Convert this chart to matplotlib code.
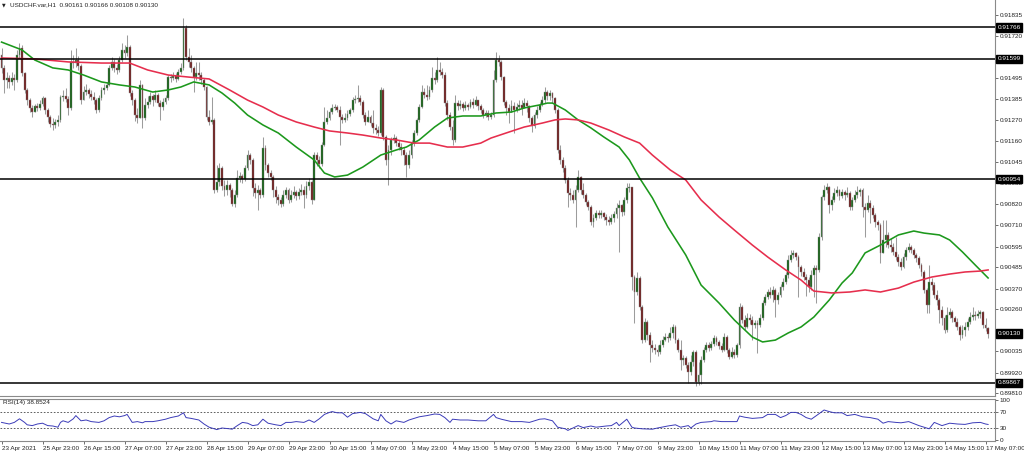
import numpy as np
import matplotlib
matplotlib.use("Agg")
import matplotlib.pyplot as plt
from matplotlib.transforms import blended_transform_factory

# ---------------- data ----------------
SYMBOL = "USDCHF.var,H1"
LAST_OHLC = [0.90161, 0.90166, 0.90108, 0.90130]

OPEN = [
    0.91619, 0.91550, 0.91485, 0.91496, 0.91475, 0.91496, 0.91485, 0.91619, 0.91656, 0.91523,
    0.91432, 0.91378, 0.91336, 0.91314, 0.91346, 0.91336, 0.91357, 0.91389, 0.91325, 0.91288,
    0.91250, 0.91245, 0.91261, 0.91272, 0.91394, 0.91400, 0.91384, 0.91336, 0.91582, 0.91576,
    0.91592, 0.91560, 0.91378, 0.91421, 0.91432, 0.91411, 0.91394, 0.91378, 0.91325, 0.91389,
    0.91432, 0.91443, 0.91459, 0.91550, 0.91582, 0.91550, 0.91539, 0.91592, 0.91646, 0.91630,
    0.91662, 0.91416, 0.91378, 0.91298, 0.91282, 0.91459, 0.91282, 0.91352, 0.91368, 0.91400,
    0.91378, 0.91405, 0.91362, 0.91341, 0.91368, 0.91389, 0.91501, 0.91496, 0.91507, 0.91491,
    0.91528, 0.91550, 0.91763, 0.91608, 0.91582, 0.91550, 0.91501, 0.91523, 0.91512, 0.91485,
    0.91448, 0.91288, 0.91261, 0.91272, 0.90897, 0.90940, 0.91015, 0.90919, 0.90897, 0.90924,
    0.90897, 0.90822, 0.90871, 0.90961, 0.90972, 0.90956, 0.91015, 0.91084, 0.91058, 0.90908,
    0.90881, 0.90897, 0.90871, 0.91122, 0.91031, 0.90988, 0.90967, 0.90897, 0.90860, 0.90844,
    0.90822, 0.90871, 0.90897, 0.90844, 0.90871, 0.90887, 0.90865, 0.90887, 0.90897, 0.90871,
    0.90919, 0.90940, 0.90844, 0.91084, 0.91058, 0.91036, 0.91138, 0.91261, 0.91282, 0.91314,
    0.91336, 0.91341, 0.91325, 0.91288, 0.91272, 0.91282, 0.91304, 0.91325, 0.91378, 0.91384,
    0.91389, 0.91368, 0.91298, 0.91261, 0.91288, 0.91255, 0.91229, 0.91218, 0.91202, 0.91432,
    0.91181, 0.91058, 0.91111, 0.91165, 0.91175, 0.91149, 0.91127, 0.91111, 0.91084, 0.91031,
    0.91084, 0.91149, 0.91202, 0.91272, 0.91341, 0.91421, 0.91405, 0.91394, 0.91432, 0.91496,
    0.91485, 0.91539, 0.91528, 0.91512, 0.91362, 0.91298, 0.91234, 0.91165, 0.91362, 0.91346,
    0.91357, 0.91336, 0.91352, 0.91341, 0.91368, 0.91352, 0.91378, 0.91346, 0.91325, 0.91298,
    0.91309, 0.91288, 0.91298, 0.91485, 0.91592, 0.91582, 0.91501, 0.91368, 0.91336, 0.91314,
    0.91346, 0.91325, 0.91341, 0.91352, 0.91336, 0.91362, 0.91346, 0.91282, 0.91239, 0.91298,
    0.91325, 0.91352, 0.91378, 0.91421, 0.91400, 0.91416, 0.91389, 0.91325, 0.91111, 0.91058,
    0.91015, 0.90951, 0.90881, 0.90871, 0.90844, 0.90897, 0.90967, 0.90897, 0.90871, 0.90833,
    0.90806, 0.90726, 0.90748, 0.90774, 0.90764, 0.90774, 0.90753, 0.90737, 0.90726, 0.90748,
    0.90769, 0.90801, 0.90817, 0.90780, 0.90844, 0.90908, 0.90913, 0.90432, 0.90352, 0.90427,
    0.90272, 0.90095, 0.90192, 0.90122, 0.90069, 0.90053, 0.90042, 0.90031, 0.90069, 0.90095,
    0.90111, 0.90106, 0.90133, 0.90165, 0.90095, 0.90042, 0.89988, 0.89999, 0.89962, 0.89924,
    0.89978, 0.90031, 0.89871, 0.89908, 0.89988, 0.90042, 0.90069, 0.90053, 0.90074, 0.90106,
    0.90085, 0.90063, 0.90042, 0.90111, 0.90042, 0.90005, 0.90031, 0.90015, 0.90069, 0.90272,
    0.90202, 0.90165, 0.90213, 0.90202, 0.90176, 0.90186, 0.90176, 0.90213, 0.90293, 0.90325,
    0.90352, 0.90336, 0.90363, 0.90309, 0.90336, 0.90379, 0.90405, 0.90443, 0.90523, 0.90550,
    0.90561, 0.90539, 0.90486, 0.90459, 0.90432, 0.90416, 0.90379, 0.90443, 0.90480, 0.90470,
    0.90646, 0.90860, 0.90897, 0.90913, 0.90817, 0.90844, 0.90881, 0.90897, 0.90865, 0.90887,
    0.90871, 0.90881, 0.90806, 0.90844, 0.90871, 0.90887, 0.90897, 0.90806, 0.90790, 0.90828,
    0.90801, 0.90764, 0.90726, 0.90710, 0.90561, 0.90630, 0.90657, 0.90603, 0.90593, 0.90566,
    0.90539, 0.90512, 0.90486, 0.90539, 0.90577, 0.90593, 0.90577, 0.90550, 0.90534, 0.90496,
    0.90459, 0.90363, 0.90283, 0.90405, 0.90389, 0.90336, 0.90309, 0.90256, 0.90213, 0.90149,
    0.90229, 0.90245, 0.90213, 0.90192, 0.90165, 0.90122, 0.90149, 0.90165, 0.90192, 0.90218,
    0.90229, 0.90224, 0.90234, 0.90245, 0.90176, 0.90161,
]

HIGH = [
    0.91656, 0.91566, 0.91528, 0.91512, 0.91528, 0.91517, 0.91646, 0.91683, 0.91672, 0.91528,
    0.91443, 0.91389, 0.91352, 0.91357, 0.91362, 0.91378, 0.91400, 0.91394, 0.91336, 0.91298,
    0.91282, 0.91277, 0.91298, 0.91405, 0.91432, 0.91443, 0.91400, 0.91646, 0.91619, 0.91656,
    0.91614, 0.91571, 0.91453, 0.91464, 0.91443, 0.91432, 0.91421, 0.91389, 0.91405, 0.91448,
    0.91464, 0.91475, 0.91566, 0.91608, 0.91598, 0.91571, 0.91614, 0.91683, 0.91672, 0.91726,
    0.91672, 0.91432, 0.91389, 0.91336, 0.91485, 0.91464, 0.91389, 0.91400, 0.91421, 0.91411,
    0.91432, 0.91416, 0.91378, 0.91389, 0.91405, 0.91512, 0.91517, 0.91528, 0.91523, 0.91544,
    0.91576, 0.91817, 0.91779, 0.91656, 0.91619, 0.91560, 0.91582, 0.91582, 0.91528, 0.91496,
    0.91453, 0.91325, 0.91394, 0.91282, 0.91031, 0.91042, 0.91026, 0.90951, 0.90951, 0.90935,
    0.90908, 0.90897, 0.91004, 0.90994, 0.90983, 0.91031, 0.91111, 0.91095, 0.91068, 0.90935,
    0.90924, 0.90908, 0.91181, 0.91138, 0.91042, 0.91004, 0.90977, 0.90919, 0.90876, 0.90860,
    0.90897, 0.90913, 0.90908, 0.90897, 0.90919, 0.90897, 0.90908, 0.90929, 0.90919, 0.90945,
    0.90961, 0.90951, 0.91100, 0.91100, 0.91079, 0.91154, 0.91341, 0.91325, 0.91336, 0.91357,
    0.91357, 0.91352, 0.91346, 0.91304, 0.91309, 0.91325, 0.91336, 0.91394, 0.91405, 0.91459,
    0.91405, 0.91378, 0.91314, 0.91325, 0.91298, 0.91325, 0.91250, 0.91239, 0.91448, 0.91443,
    0.91191, 0.91138, 0.91181, 0.91197, 0.91186, 0.91165, 0.91149, 0.91127, 0.91100, 0.91111,
    0.91165, 0.91218, 0.91282, 0.91357, 0.91459, 0.91443, 0.91459, 0.91453, 0.91555, 0.91528,
    0.91608, 0.91582, 0.91550, 0.91528, 0.91378, 0.91314, 0.91272, 0.91405, 0.91378, 0.91378,
    0.91368, 0.91373, 0.91362, 0.91384, 0.91389, 0.91400, 0.91378, 0.91357, 0.91336, 0.91325,
    0.91325, 0.91314, 0.91539, 0.91635, 0.91619, 0.91592, 0.91507, 0.91378, 0.91357, 0.91378,
    0.91368, 0.91362, 0.91378, 0.91378, 0.91389, 0.91378, 0.91352, 0.91293, 0.91314, 0.91346,
    0.91368, 0.91400, 0.91448, 0.91432, 0.91432, 0.91421, 0.91394, 0.91336, 0.91138, 0.91074,
    0.91031, 0.90967, 0.90908, 0.90897, 0.90924, 0.91004, 0.90972, 0.90935, 0.90881, 0.90844,
    0.90817, 0.90769, 0.90790, 0.90790, 0.90790, 0.90780, 0.90769, 0.90758, 0.90769, 0.90785,
    0.90828, 0.90844, 0.90822, 0.90860, 0.90935, 0.90935, 0.90913, 0.90443, 0.90459, 0.90438,
    0.90283, 0.90213, 0.90202, 0.90138, 0.90095, 0.90074, 0.90069, 0.90095, 0.90117, 0.90133,
    0.90127, 0.90165, 0.90181, 0.90176, 0.90106, 0.90095, 0.90015, 0.90010, 0.89978, 0.90015,
    0.90042, 0.90042, 0.89978, 0.90010, 0.90058, 0.90085, 0.90085, 0.90090, 0.90122, 0.90117,
    0.90095, 0.90079, 0.90133, 0.90122, 0.90053, 0.90058, 0.90047, 0.90079, 0.90293, 0.90283,
    0.90229, 0.90240, 0.90234, 0.90224, 0.90202, 0.90202, 0.90234, 0.90309, 0.90341, 0.90368,
    0.90379, 0.90384, 0.90373, 0.90352, 0.90395, 0.90427, 0.90459, 0.90550, 0.90577, 0.90577,
    0.90566, 0.90550, 0.90496, 0.90480, 0.90448, 0.90432, 0.90470, 0.90496, 0.90496, 0.90667,
    0.90871, 0.90924, 0.90935, 0.90919, 0.90865, 0.90908, 0.90919, 0.90903, 0.90903, 0.90897,
    0.90913, 0.90892, 0.90860, 0.90897, 0.90919, 0.90908, 0.90908, 0.90828, 0.90871, 0.90844,
    0.90817, 0.90774, 0.90737, 0.90721, 0.90737, 0.90737, 0.90673, 0.90641, 0.90614, 0.90646,
    0.90555, 0.90534, 0.90561, 0.90593, 0.90614, 0.90603, 0.90587, 0.90561, 0.90544, 0.90507,
    0.90470, 0.90373, 0.90496, 0.90427, 0.90405, 0.90363, 0.90320, 0.90277, 0.90229, 0.90272,
    0.90266, 0.90256, 0.90224, 0.90213, 0.90176, 0.90176, 0.90192, 0.90213, 0.90245, 0.90272,
    0.90250, 0.90256, 0.90256, 0.90250, 0.90213, 0.90166,
]

LOW = [
    0.91523, 0.91416, 0.91443, 0.91443, 0.91459, 0.91432, 0.91475, 0.91603, 0.91507, 0.91416,
    0.91352, 0.91314, 0.91288, 0.91314, 0.91320, 0.91325, 0.91346, 0.91304, 0.91261, 0.91234,
    0.91218, 0.91229, 0.91239, 0.91261, 0.91373, 0.91368, 0.91298, 0.91325, 0.91550, 0.91555,
    0.91539, 0.91357, 0.91378, 0.91405, 0.91389, 0.91378, 0.91357, 0.91309, 0.91314, 0.91378,
    0.91411, 0.91432, 0.91453, 0.91539, 0.91528, 0.91517, 0.91528, 0.91582, 0.91603, 0.91614,
    0.91400, 0.91352, 0.91266, 0.91255, 0.91282, 0.91229, 0.91272, 0.91336, 0.91357, 0.91346,
    0.91368, 0.91346, 0.91272, 0.91325, 0.91357, 0.91378, 0.91475, 0.91485, 0.91475, 0.91485,
    0.91517, 0.91539, 0.91592, 0.91555, 0.91528, 0.91421, 0.91485, 0.91485, 0.91464, 0.91432,
    0.91272, 0.91245, 0.91250, 0.90881, 0.90887, 0.90919, 0.90897, 0.90865, 0.90871, 0.90860,
    0.90812, 0.90806, 0.90860, 0.90940, 0.90935, 0.90945, 0.91004, 0.91036, 0.90865, 0.90855,
    0.90790, 0.90855, 0.90860, 0.91004, 0.90967, 0.90951, 0.90860, 0.90828, 0.90817, 0.90806,
    0.90812, 0.90855, 0.90828, 0.90833, 0.90855, 0.90844, 0.90849, 0.90871, 0.90801, 0.90855,
    0.90897, 0.90822, 0.90844, 0.91026, 0.91015, 0.91026, 0.91133, 0.91250, 0.91272, 0.91304,
    0.91325, 0.91314, 0.91138, 0.91255, 0.91261, 0.91272, 0.91293, 0.91314, 0.91362, 0.91368,
    0.91352, 0.91282, 0.91245, 0.91261, 0.91239, 0.91202, 0.91197, 0.91186, 0.91191, 0.91165,
    0.91031, 0.90924, 0.91084, 0.91149, 0.91133, 0.91111, 0.91084, 0.91031, 0.90967, 0.91015,
    0.91068, 0.91133, 0.91191, 0.91261, 0.91336, 0.91389, 0.91378, 0.91384, 0.91421, 0.91464,
    0.91475, 0.91512, 0.91496, 0.91346, 0.91272, 0.91218, 0.91138, 0.91154, 0.91325, 0.91330,
    0.91320, 0.91325, 0.91325, 0.91336, 0.91336, 0.91346, 0.91325, 0.91309, 0.91282, 0.91288,
    0.91272, 0.91277, 0.91288, 0.91475, 0.91560, 0.91485, 0.91352, 0.91298, 0.91255, 0.91325,
    0.91202, 0.91314, 0.91325, 0.91298, 0.91336, 0.91314, 0.91261, 0.91207, 0.91229, 0.91282,
    0.91314, 0.91346, 0.91362, 0.91378, 0.91378, 0.91362, 0.91309, 0.91095, 0.91036, 0.90994,
    0.90935, 0.90806, 0.90844, 0.90828, 0.90700, 0.90887, 0.90876, 0.90855, 0.90817, 0.90790,
    0.90710, 0.90700, 0.90737, 0.90748, 0.90748, 0.90737, 0.90710, 0.90710, 0.90716, 0.90726,
    0.90748, 0.90566, 0.90758, 0.90764, 0.90828, 0.90887, 0.90363, 0.90186, 0.90336, 0.90256,
    0.90079, 0.90085, 0.90095, 0.89978, 0.90031, 0.90021, 0.90010, 0.90021, 0.90058, 0.90090,
    0.90085, 0.90095, 0.90106, 0.90079, 0.90031, 0.89935, 0.89962, 0.89946, 0.89866, 0.89908,
    0.89956, 0.89849, 0.89855, 0.89860, 0.89978, 0.90031, 0.90037, 0.90042, 0.90063, 0.90069,
    0.90047, 0.90031, 0.90037, 0.90026, 0.89994, 0.89999, 0.89999, 0.90005, 0.90053, 0.90186,
    0.90149, 0.90160, 0.90181, 0.90095, 0.90160, 0.90026, 0.90165, 0.90202, 0.90283, 0.90315,
    0.90320, 0.90299, 0.90218, 0.90288, 0.90325, 0.90363, 0.90395, 0.90427, 0.90512, 0.90534,
    0.90523, 0.90325, 0.90438, 0.90416, 0.90331, 0.90352, 0.90363, 0.90325, 0.90293, 0.90459,
    0.90630, 0.90844, 0.90881, 0.90774, 0.90790, 0.90833, 0.90865, 0.90844, 0.90855, 0.90844,
    0.90860, 0.90790, 0.90790, 0.90833, 0.90855, 0.90865, 0.90753, 0.90646, 0.90780, 0.90721,
    0.90748, 0.90700, 0.90683, 0.90507, 0.90577, 0.90593, 0.90587, 0.90566, 0.90550, 0.90523,
    0.90491, 0.90470, 0.90480, 0.90523, 0.90566, 0.90561, 0.90534, 0.90512, 0.90480, 0.90438,
    0.90347, 0.90240, 0.90240, 0.90363, 0.90320, 0.90283, 0.90186, 0.90176, 0.90133, 0.90138,
    0.90213, 0.90192, 0.90170, 0.90149, 0.90095, 0.90106, 0.90117, 0.90149, 0.90181, 0.90202,
    0.90202, 0.90213, 0.90213, 0.90160, 0.90144, 0.90108,
]

CLOSE = [
    0.91550, 0.91485, 0.91496, 0.91475, 0.91496, 0.91485, 0.91619, 0.91656, 0.91523, 0.91432,
    0.91378, 0.91336, 0.91314, 0.91346, 0.91336, 0.91357, 0.91389, 0.91325, 0.91288, 0.91250,
    0.91245, 0.91261, 0.91272, 0.91394, 0.91400, 0.91384, 0.91336, 0.91582, 0.91576, 0.91592,
    0.91560, 0.91378, 0.91421, 0.91432, 0.91411, 0.91394, 0.91378, 0.91325, 0.91389, 0.91432,
    0.91443, 0.91459, 0.91550, 0.91582, 0.91550, 0.91539, 0.91592, 0.91646, 0.91630, 0.91662,
    0.91416, 0.91378, 0.91298, 0.91282, 0.91459, 0.91282, 0.91352, 0.91368, 0.91400, 0.91378,
    0.91405, 0.91362, 0.91341, 0.91368, 0.91389, 0.91501, 0.91496, 0.91507, 0.91491, 0.91528,
    0.91550, 0.91763, 0.91608, 0.91582, 0.91550, 0.91501, 0.91523, 0.91512, 0.91485, 0.91448,
    0.91288, 0.91261, 0.91272, 0.90897, 0.90940, 0.91015, 0.90919, 0.90897, 0.90924, 0.90897,
    0.90822, 0.90871, 0.90961, 0.90972, 0.90956, 0.91015, 0.91084, 0.91058, 0.90908, 0.90881,
    0.90897, 0.90871, 0.91122, 0.91031, 0.90988, 0.90967, 0.90897, 0.90860, 0.90844, 0.90822,
    0.90871, 0.90897, 0.90844, 0.90871, 0.90887, 0.90865, 0.90887, 0.90897, 0.90871, 0.90919,
    0.90940, 0.90844, 0.91084, 0.91058, 0.91036, 0.91138, 0.91261, 0.91282, 0.91314, 0.91336,
    0.91341, 0.91325, 0.91288, 0.91272, 0.91282, 0.91304, 0.91325, 0.91378, 0.91384, 0.91389,
    0.91368, 0.91298, 0.91261, 0.91288, 0.91255, 0.91229, 0.91218, 0.91202, 0.91432, 0.91181,
    0.91058, 0.91111, 0.91165, 0.91175, 0.91149, 0.91127, 0.91111, 0.91084, 0.91031, 0.91084,
    0.91149, 0.91202, 0.91272, 0.91341, 0.91421, 0.91405, 0.91394, 0.91432, 0.91496, 0.91485,
    0.91539, 0.91528, 0.91512, 0.91362, 0.91298, 0.91234, 0.91165, 0.91362, 0.91346, 0.91357,
    0.91336, 0.91352, 0.91341, 0.91368, 0.91352, 0.91378, 0.91346, 0.91325, 0.91298, 0.91309,
    0.91288, 0.91298, 0.91485, 0.91592, 0.91582, 0.91501, 0.91368, 0.91336, 0.91314, 0.91346,
    0.91325, 0.91341, 0.91352, 0.91336, 0.91362, 0.91346, 0.91282, 0.91239, 0.91298, 0.91325,
    0.91352, 0.91378, 0.91421, 0.91400, 0.91416, 0.91389, 0.91325, 0.91111, 0.91058, 0.91015,
    0.90951, 0.90881, 0.90871, 0.90844, 0.90897, 0.90967, 0.90897, 0.90871, 0.90833, 0.90806,
    0.90726, 0.90748, 0.90774, 0.90764, 0.90774, 0.90753, 0.90737, 0.90726, 0.90748, 0.90769,
    0.90801, 0.90817, 0.90780, 0.90844, 0.90908, 0.90913, 0.90432, 0.90352, 0.90427, 0.90272,
    0.90095, 0.90192, 0.90122, 0.90069, 0.90053, 0.90042, 0.90031, 0.90069, 0.90095, 0.90111,
    0.90106, 0.90133, 0.90165, 0.90095, 0.90042, 0.89988, 0.89999, 0.89962, 0.89924, 0.89978,
    0.90031, 0.89871, 0.89908, 0.89988, 0.90042, 0.90069, 0.90053, 0.90074, 0.90106, 0.90085,
    0.90063, 0.90042, 0.90111, 0.90042, 0.90005, 0.90031, 0.90015, 0.90069, 0.90272, 0.90202,
    0.90165, 0.90213, 0.90202, 0.90176, 0.90186, 0.90176, 0.90213, 0.90293, 0.90325, 0.90352,
    0.90336, 0.90363, 0.90309, 0.90336, 0.90379, 0.90405, 0.90443, 0.90523, 0.90550, 0.90561,
    0.90539, 0.90486, 0.90459, 0.90432, 0.90416, 0.90379, 0.90443, 0.90480, 0.90470, 0.90646,
    0.90860, 0.90897, 0.90913, 0.90817, 0.90844, 0.90881, 0.90897, 0.90865, 0.90887, 0.90871,
    0.90881, 0.90806, 0.90844, 0.90871, 0.90887, 0.90897, 0.90806, 0.90790, 0.90828, 0.90801,
    0.90764, 0.90726, 0.90710, 0.90561, 0.90630, 0.90657, 0.90603, 0.90593, 0.90566, 0.90539,
    0.90512, 0.90486, 0.90539, 0.90577, 0.90593, 0.90577, 0.90550, 0.90534, 0.90496, 0.90459,
    0.90363, 0.90283, 0.90405, 0.90389, 0.90336, 0.90309, 0.90256, 0.90213, 0.90149, 0.90229,
    0.90245, 0.90213, 0.90192, 0.90165, 0.90122, 0.90149, 0.90165, 0.90192, 0.90218, 0.90229,
    0.90224, 0.90234, 0.90245, 0.90176, 0.90160, 0.90130,
]

# moving averages (bar index, value)
MA_FAST_BARS = [0, 8, 13, 20, 26, 32, 39, 46, 52, 59, 65, 70, 75, 81, 86, 91, 96, 102, 108, 115,
                122, 126, 130, 135, 141, 148, 154, 158, 163, 169, 174, 180, 187, 193, 199, 204, 210, 213, 215, 220,
                225, 230, 235, 241, 245, 249, 254, 260, 267, 273, 280, 286, 293, 297, 302, 307, 312, 317, 323, 328,
                332, 337, 343, 350, 356, 360, 366, 370, 375, 380, 385]
MA_FAST = [0.91688, 0.91646, 0.91592, 0.91550, 0.91539, 0.91512, 0.91475, 0.91459, 0.91448, 0.91421,
           0.91432, 0.91448, 0.91475, 0.91459, 0.91416, 0.91362, 0.91298, 0.91245, 0.91202, 0.91127,
           0.91058, 0.90988, 0.90967, 0.90977, 0.91020, 0.91084, 0.91111, 0.91127, 0.91165, 0.91234,
           0.91282, 0.91293, 0.91293, 0.91309, 0.91314, 0.91336, 0.91352, 0.91362, 0.91362, 0.91325,
           0.91272, 0.91229, 0.91181, 0.91127, 0.91058, 0.90961, 0.90855, 0.90700, 0.90550, 0.90389,
           0.90293, 0.90202, 0.90111, 0.90085, 0.90095, 0.90133, 0.90165, 0.90218, 0.90309, 0.90400,
           0.90454, 0.90561, 0.90603, 0.90657, 0.90678, 0.90667, 0.90657, 0.90630, 0.90566, 0.90496,
           0.90427]

MA_SLOW_BARS = [0, 13, 26, 39, 50, 57, 65, 73, 81, 89, 96, 102, 108, 115, 122, 128, 135, 141, 148, 154,
                161, 167, 174, 180, 187, 191, 198, 204, 211, 216, 220, 225, 230, 237, 243, 249, 254, 261, 267, 273,
                280, 286, 293, 299, 306, 312, 317, 324, 331, 337, 343, 350, 356, 363, 370, 376, 382, 385]
MA_SLOW = [0.91603, 0.91598, 0.91582, 0.91576, 0.91576, 0.91539, 0.91512, 0.91501, 0.91491, 0.91432,
           0.91378, 0.91341, 0.91298, 0.91261, 0.91234, 0.91213, 0.91202, 0.91191, 0.91175, 0.91165,
           0.91148, 0.91148, 0.91127, 0.91127, 0.91148, 0.91175, 0.91207, 0.91234, 0.91255, 0.91272,
           0.91277, 0.91272, 0.91255, 0.91218, 0.91181, 0.91148, 0.91084, 0.91004, 0.90951, 0.90844,
           0.90753, 0.90683, 0.90603, 0.90539, 0.90470, 0.90416, 0.90357, 0.90347, 0.90352, 0.90363,
           0.90352, 0.90373, 0.90405, 0.90432, 0.90448, 0.90459, 0.90464, 0.90470]

RSI_BARS = [0, 3, 5, 7, 9, 10, 12, 14, 16, 18, 20, 22, 23, 24, 26, 28, 29, 31, 33, 35,
            38, 40, 42, 44, 46, 48, 49, 51, 53, 55, 56, 59, 61, 64, 66, 69, 71, 72, 74, 77,
            79, 81, 84, 86, 89, 90, 92, 94, 96, 98, 100, 102, 104, 107, 109, 111, 113, 115, 118, 120,
            122, 124, 126, 128, 129, 131, 133, 135, 137, 140, 142, 145, 147, 148, 150, 152, 154, 157, 159, 163,
            166, 169, 171, 173, 175, 176, 179, 182, 186, 189, 192, 193, 195, 199, 203, 206, 208, 210, 212, 215,
            217, 220, 221, 223, 225, 227, 230, 232, 236, 238, 240, 241, 244, 246, 247, 250, 254, 256, 260, 263,
            265, 268, 269, 271, 273, 277, 278, 281, 284, 287, 288, 290, 293, 297, 299, 302, 304, 306, 308, 310,
            312, 314, 316, 318, 321, 323, 325, 328, 330, 333, 336, 339, 342, 344, 346, 349, 351, 354, 358, 360,
            362, 364, 367, 370, 373, 376, 379, 382, 384, 385]
RSI_VALS = [44, 40, 44, 53, 44, 38, 36, 40, 42, 36, 35, 32, 44, 48, 44, 53, 61, 48, 50, 46,
            44, 48, 56, 60, 58, 61, 64, 44, 46, 43, 46, 46, 48, 52, 56, 60, 68, 56, 54, 50,
            40, 32, 26, 30, 28, 27, 36, 44, 42, 36, 38, 52, 42, 38, 36, 44, 44, 46, 44, 50,
            44, 53, 64, 69, 71, 68, 68, 57, 66, 69, 66, 53, 48, 64, 48, 40, 48, 44, 50, 58,
            61, 65, 64, 56, 44, 52, 50, 50, 48, 48, 64, 56, 52, 46, 46, 44, 48, 52, 53, 48,
            32, 28, 24, 30, 36, 31, 35, 32, 35, 36, 44, 36, 52, 32, 30, 28, 27, 30, 35, 38,
            32, 36, 30, 40, 44, 46, 48, 46, 46, 46, 60, 57, 54, 56, 64, 64, 56, 61, 69, 69,
            64, 56, 52, 61, 75, 71, 68, 68, 61, 64, 58, 56, 52, 42, 46, 44, 43, 46, 36, 32,
            28, 44, 36, 42, 40, 39, 43, 44, 40, 38.85]
RSI_LAST = 38.8524

LEVELS = [0.91766, 0.91599, 0.90954, 0.89867]
# scale labels that stay visible beside the black price boxes
PRICE_TICKS = [0.91835, 0.91720, 0.91495, 0.91385, 0.91270, 0.91160, 0.91045, 0.90935, 0.90820,
               0.90710, 0.90595, 0.90485, 0.90370, 0.90260, 0.90035, 0.89920, 0.89810]
RSI_TICKS = [100, 70, 30, 0]
RSI_LEVELS = [70, 30]
TIME_LABEL_BARS = [0, 16, 32, 48, 64, 80, 96, 112, 128, 144, 160, 176, 192, 208, 224, 240, 256, 272,
                   288, 304, 320, 336, 352, 368, 384]
TIME_LABELS = ["23 Apr 2021", "25 Apr 23:00", "26 Apr 15:00", "27 Apr 07:00", "27 Apr 23:00",
               "28 Apr 15:00", "29 Apr 07:00", "29 Apr 23:00", "30 Apr 15:00", "3 May 07:00",
               "3 May 23:00", "4 May 15:00", "5 May 07:00", "5 May 23:00", "6 May 15:00",
               "7 May 07:00", "9 May 23:00", "10 May 15:00", "11 May 07:00", "11 May 23:00",
               "12 May 15:00", "13 May 07:00", "13 May 23:00", "14 May 15:00", "17 May 07:00"]

# ---------------- figure ----------------
plt.rcParams['font.family'] = ['Liberation Sans', 'DejaVu Sans']
W, H = 1024, 454
fig = plt.figure(figsize=(W / 100, H / 100), dpi=100)
fig.patch.set_facecolor('white')

def fx(px):
    return px / W

def fy(py):
    return 1 - py / H

AX_RIGHT = 995
ax = fig.add_axes([0, fy(396), fx(AX_RIGHT), 396 / H])
rax = fig.add_axes([0, fy(441), fx(AX_RIGHT), 42 / H])

FS = 4.6
GRID_GREY = '#8a8a8a'
WICK = '#9c9c9c'
BULL = '#0e5e0e'
BEAR = '#6c1515'

o = np.array(OPEN)
h = np.array(HIGH)
l = np.array(LOW)
c = np.array(CLOSE)
bars = np.arange(len(c))
top = np.maximum(h, np.maximum(o, c))
bot = np.minimum(l, np.minimum(o, c))

ax.vlines(bars, bot, top, colors=WICK, lw=0.75, zorder=2)
body_lo = np.minimum(o, c)
body_h = np.maximum(np.abs(c - o), 0.00003)
up = c >= o
ax.bar(bars[up], body_h[up], bottom=body_lo[up], width=0.72, color=BULL,
       edgecolor='#8e8e8e', linewidth=0.3, zorder=3)
ax.bar(bars[~up], body_h[~up], bottom=body_lo[~up], width=0.72, color=BEAR,
       edgecolor='#8e8e8e', linewidth=0.3, zorder=3)

ax.plot(MA_FAST_BARS, MA_FAST, color='#1c981c', lw=1.15, zorder=4)
ax.plot(MA_SLOW_BARS, MA_SLOW, color='#e62e4d', lw=1.15, zorder=4)

for v in LEVELS:
    ax.axhline(v, color='black', lw=1.1, zorder=5)

px_per_price = 18706.0
ymax = 0.91913
ax.set_ylim(ymax - 396 / px_per_price, ymax)
xl = (-0.6, -0.6 + AX_RIGHT / 2.5625)
ax.set_xlim(*xl)

ax.yaxis.tick_right()
ax.set_yticks(PRICE_TICKS)
ax.set_yticklabels([f"{v:.5f}" for v in PRICE_TICKS])
ax.tick_params(axis='y', length=2, width=0.6, pad=1.5, labelsize=FS,
               colors='#555555', labelcolor='#222222')
ax.set_xticks([])
for s in ['left', 'top']:
    ax.spines[s].set_visible(False)
for s in ['right', 'bottom']:
    ax.spines[s].set_color(GRID_GREY)
    ax.spines[s].set_linewidth(0.8)

trans = blended_transform_factory(ax.transAxes, ax.transData)
for v in LEVELS + [LAST_OHLC[3]]:
    ax.text(1.0025, v, f"{v:.5f}", transform=trans, ha='left', va='center',
            fontsize=FS, color='white', clip_on=False, zorder=10,
            bbox=dict(boxstyle='square,pad=0.25', fc='black', ec='black'))

# title
fig.text(fx(2), fy(5), "\u25BC", fontsize=3.4, va='center', ha='left', color='#222222',
         family=['DejaVu Sans'])
fig.text(fx(10), fy(5), f"{SYMBOL}  " + " ".join(f"{v:.5f}" for v in LAST_OHLC),
         fontsize=FS, va='center', ha='left', color='#222222')

# RSI panel
rax.plot(RSI_BARS, RSI_VALS, color='#3b3bb8', lw=0.7, zorder=3)
for v in RSI_LEVELS:
    rax.axhline(v, color='#444444', lw=0.6, ls=(0, (2, 2)), zorder=2)
rax.set_ylim(-2.5, 102.5)
rax.set_xlim(*xl)
rax.yaxis.tick_right()
rax.set_yticks(RSI_TICKS)
rax.set_yticklabels([str(v) for v in RSI_TICKS])
rax.tick_params(axis='y', length=2, width=0.6, pad=1.5, labelsize=FS,
                colors='#555555', labelcolor='#222222')
rax.set_xticks(TIME_LABEL_BARS)
rax.set_xticklabels(TIME_LABELS, ha='left')
rax.tick_params(axis='x', length=2.5, width=0.6, pad=1.2, labelsize=FS,
                colors='#555555', labelcolor='#222222')
rax.spines['left'].set_visible(False)
for s in ['right', 'bottom', 'top']:
    rax.spines[s].set_color(GRID_GREY)
    rax.spines[s].set_linewidth(0.8)
rax.text(0.003, 0.97, f"RSI(14) {RSI_LAST:.4f}", transform=rax.transAxes,
         fontsize=FS, va='top', ha='left', color='#222222')

fig.savefig('out.png', dpi=100, facecolor='white')
